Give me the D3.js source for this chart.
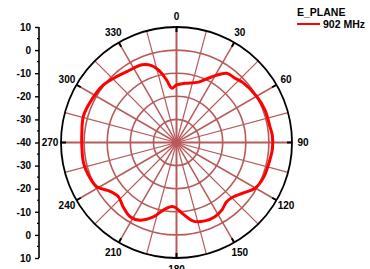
<!DOCTYPE html>
<html>
<head>
<meta charset="utf-8">
<script src="https://cdn.jsdelivr.net/npm/d3@7"></script>
<style>
  body { margin: 0; background: #fff; }
  svg { display: block; font-family: "Liberation Sans", Arial, sans-serif; font-weight: bold; }
</style>
</head>
<body>
<svg id="svg" width="370" height="269"></svg>
<script>
// measured pattern, angle in degrees (clockwise from top) and gain in dB
var angles = [0, 8, 20, 28, 36, 42, 48, 60, 70, 80, 86, 94, 104, 112, 120, 127, 134, 140, 146, 153,
              160, 168, 174, 183, 191, 197, 205, 212, 220, 227, 234, 241, 250, 258, 268, 276, 286,
              297, 308, 318, 325, 336, 342, 347, 351, 355];
var gain   = [-15.1, -14.1, -12.2, -7.9, -3.0, -2.4, -1.3, 0.0, 0.8, 1.0, 1.6, 1.6, 0.9, 0.6, -0.6,
              -3.7, -6.0, -6.4, -4.8, -3.8, -3.9, -5.2, -8.5, -12.2, -10.2, -6.4, -2.9, -2.1, -3.9,
              -5.6, -4.2, -0.5, 0.7, 1.2, 1.0, 1.2, 1.9, 1.1, 0.3, -1.5, -2.5, -3.2, -5.0, -8.5,
              -12.6, -16.4];

var ringVals  = [-30, -20, -10, 0];
var spokeVals = d3.range(0, 360, 15);
var angLabels = d3.range(0, 360, 30);
var axisTicks = [-50, -40, -30, -20, -10, 0, 10, 20, 30, 40, 50];
var series    = ["902 MHz"], title = "E_PLANE";

var svg = d3.select("#svg");

var cx = 176.5, cy = 142.5, R = 115.5;

var grid = "#b85a5a",
    ink  = "#000",
    red  = "#ff0000";

var r = d3.scaleLinear().domain([-40, 10]).range([0, R]);
var a = d3.scaleLinear().domain([0, 360]).range([0, 2 * Math.PI]);

function px(deg, rad) { return cx + rad * Math.sin(a(deg)); }
function py(deg, rad) { return cy - rad * Math.cos(a(deg)); }

var g = svg.append("g").attr("transform", "translate(" + cx + "," + cy + ")");

// spokes
g.selectAll(".spoke").data(spokeVals).enter()
    .append("line")
    .attr("x1", 0).attr("y1", 0)
    .attr("x2", d => R * Math.sin(a(d)))
    .attr("y2", d => -R * Math.cos(a(d)))
    .attr("stroke", grid)
    .attr("stroke-width", d => d % 90 === 0 ? 2 : d % 30 === 0 ? 1.5 : 1.2);

// rings
g.selectAll(".ring").data(ringVals).enter()
    .append("circle")
    .attr("r", d => r(d))
    .attr("fill", "none").attr("stroke", grid).attr("stroke-width", 1.6);

// outer circle + ticks
g.append("circle").attr("r", R).attr("fill", "none").attr("stroke", ink).attr("stroke-width", 1.8);
g.selectAll(".otick").data(angLabels).enter()
    .append("line")
    .attr("x1", d => (R - 5) * Math.sin(a(d))).attr("y1", d => -(R - 5) * Math.cos(a(d)))
    .attr("x2", d => R * Math.sin(a(d))).attr("y2", d => -R * Math.cos(a(d)))
    .attr("stroke", ink).attr("stroke-width", 2);

// angle labels
svg.selectAll(".alab").data(angLabels).enter()
    .append("text")
    .attr("x", d => px(d, R + 11))
    .attr("y", d => py(d, R + 11))
    .attr("dy", "0.35em")
    .attr("text-anchor", "middle")
    .attr("font-size", 10)
    .text(d => d);

// pattern
var pts = angles.map((d, i) => ({ang: d, val: gain[i]}));
var line = d3.lineRadial()
    .angle(d => a(d.ang))
    .radius(d => r(d.val))
    .curve(d3.curveCatmullRomClosed);

g.append("path").datum(pts)
    .attr("d", line)
    .attr("fill", "none").attr("stroke", red).attr("stroke-width", 3)
    .attr("stroke-linejoin", "round");

// mirrored left axis: -40 at centre, 10 at both ends
var y = d3.scaleLinear().domain([-50, 50]).range([cy + R, cy - R]);
var ax = svg.append("g").attr("transform", "translate(39,0)")
    .call(d3.axisLeft(y).tickValues(axisTicks).tickSize(4).tickPadding(4)
        .tickFormat(d => String(Math.abs(d) - 40)));
ax.select(".domain").attr("stroke-width", 1.6).attr("d", "M0," + (cy - R) + "V" + (cy + R));
ax.selectAll(".tick line").attr("stroke-width", 1.4);
ax.selectAll(".tick text").attr("font-size", 10).attr("font-weight", "bold")
    .attr("font-family", "Liberation Sans, Arial, sans-serif");
ax.selectAll(".minor").data(axisTicks.slice(1).map(d => d - 5)).enter()
    .append("line")
    .attr("x1", -2).attr("x2", 0)
    .attr("y1", d => y(d)).attr("y2", d => y(d))
    .attr("stroke", ink).attr("stroke-width", 1.2);

// legend
var lg = svg.append("g").attr("transform", "translate(297,0)");
lg.append("text").attr("x", 0).attr("y", 16).attr("font-size", 10.5).text(title);
lg.selectAll(".item").data(series).enter()
    .append("g")
    .each(function(d) {
        var s = d3.select(this);
        s.append("line").attr("x1", 0).attr("x2", 23).attr("y1", 24).attr("y2", 24)
            .attr("stroke", red).attr("stroke-width", 2);
        s.append("text").attr("x", 26).attr("y", 28).attr("font-size", 10.5).text(d);
    });
</script>
</body>
</html>
